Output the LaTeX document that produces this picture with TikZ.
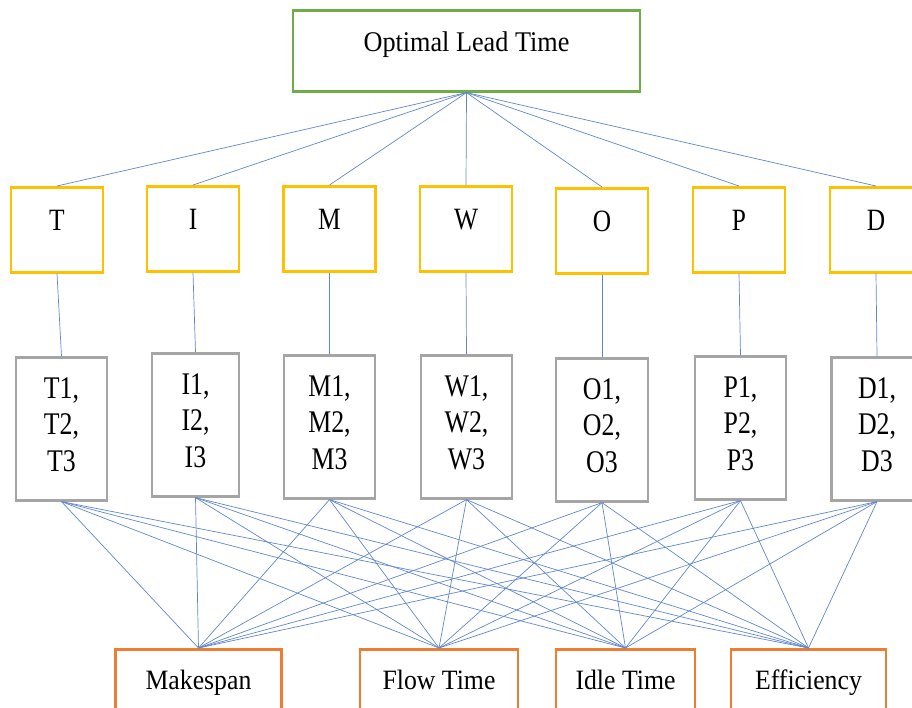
\documentclass[tikz,border=0pt]{standalone}
\usepackage{fontspec}
\setmainfont[FakeStretch=0.92]{Liberation Serif}
\newfontfamily\narrowserif[FakeStretch=0.82]{Liberation Serif}

\definecolor{goalgreen}{HTML}{70AD47}
\definecolor{factoryellow}{HTML}{FFC000}
\definecolor{subgray}{HTML}{A5A5A5}
\definecolor{measureorange}{HTML}{ED7D31}
\definecolor{linkblue}{HTML}{4472C4}

\begin{document}
\begin{tikzpicture}[
    x=1pt, y=-1pt,
    box/.style={draw, line width=2.6pt, inner xsep=0pt, inner ysep=0pt, anchor=north},
    goal/.style={box, draw=goalgreen, minimum width=347pt, text height=41pt, text depth=40pt,
        font=\fontsize{28.5}{34}\selectfont},
    factor/.style={box, draw=factoryellow, minimum width=92pt, text height=43pt, text depth=42pt,
        font=\narrowserif\fontsize{31}{36}\selectfont},
    subfactor/.style={box, draw=subgray, align=center, text height=114pt, text depth=29pt,
        font=\narrowserif\fontsize{31.5}{36.5}\selectfont},
    measure/.style={box, draw=measureorange, text height=40pt, text depth=40pt,
        font=\fontsize{28}{33}\selectfont},
    link/.style={draw=linkblue!85, line width=0.7pt}
]

\useasboundingbox (0,0) rectangle (912,707);
\clip (0,0) rectangle (912,707);

% --- Goal ---
\node[goal] (olt) at (466.5,9) {Optimal Lead Time};

% --- Criteria and sub-criteria ---
\foreach \n/\xc/\yt in {T/57/186, I/193/185, M/329.5/185, W/466/185, O/602/187, P/739/186, D/876/186}
    \node[factor] (\n) at (\xc,\yt) {\n};

\foreach \n/\xc/\yt/\w in {T/61.5/356/91, I/195.5/352/87, M/329.5/354/91, W/466.5/354/91,
                           O/602/357/92, P/740.5/355/91, D/877/356/91}
    \node[subfactor, minimum width=\w pt] (\n1) at (\xc,\yt) {\n1,\\\n2,\\\n3};

% --- Performance measures ---
\node[measure, minimum width=166pt] (mk) at (198.5,648) {Makespan};
\node[measure, minimum width=158pt] (ft) at (439,648) {Flow Time};
\node[measure, minimum width=139pt] (it) at (625.5,648) {Idle Time};
\node[measure, minimum width=155pt] (ef) at (808.5,648) {Efficiency};

% --- Links ---
\foreach \n in {T,I,M,W,O,P,D} {
    \draw[link] (olt.south) -- (\n.north);
    \draw[link] (\n.south) -- (\n1.north);
    \foreach \m in {mk,ft,it,ef}
        \draw[link] (\n1.south) -- (\m.north);
}

\end{tikzpicture}
\end{document}
